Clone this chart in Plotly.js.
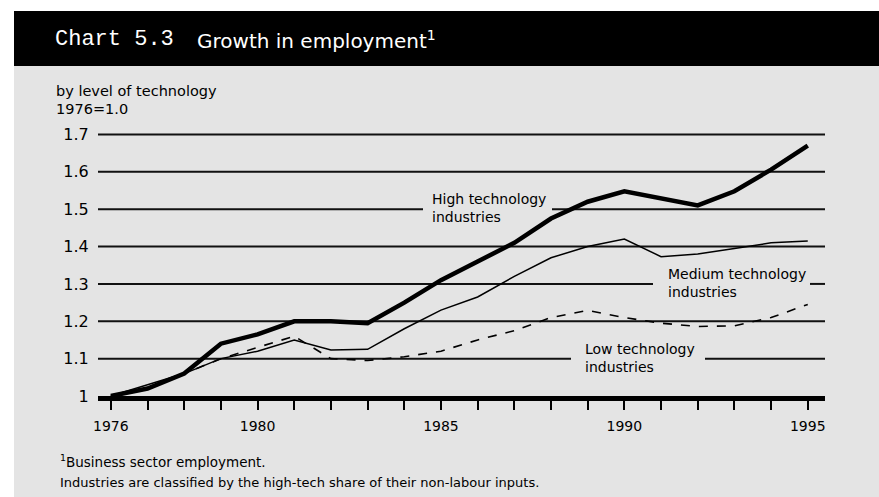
<!DOCTYPE html>
<html>
<head>
<meta charset="utf-8">
<script src="https://cdn.plot.ly/plotly-3.0.1.min.js"></script>
<style>
html,body{margin:0;padding:0;background:#fff;}
#chart{width:879px;height:497px;}
</style>
</head>
<body>
<div id="chart"></div>
<script>
// ---- data ----
const years = [1976,1977,1978,1979,1980,1981,1982,1983,1984,1985,1986,1987,1988,1989,1990,1991,1992,1993,1994,1995];
const highTech   = [1.00,1.02,1.06,1.14,1.165,1.20,1.20,1.195,1.25,1.31,1.36,1.41,1.475,1.52,1.548,1.53,1.51,1.548,1.606,1.67];
const mediumTech = [1.00,1.03,1.06,1.10,1.12,1.15,1.123,1.125,1.18,1.23,1.265,1.32,1.37,1.40,1.42,1.373,1.38,1.395,1.41,1.415];
const lowTech    = [1.00,1.02,1.06,1.10,1.13,1.16,1.10,1.095,1.105,1.12,1.15,1.175,1.21,1.229,1.21,1.195,1.186,1.188,1.21,1.245];
const xLabelYears = [1976,1980,1985,1990,1995];
const xTickLabels = ["1976","1980","1985","1990","1995"];
const yTickVals = [1,1.1,1.2,1.3,1.4,1.5,1.6,1.7];
const yTickLabels = ["1","1.1","1.2","1.3","1.4","1.5","1.6","1.7"];
const seriesLabels = ["High technology<br>industries","Medium technology<br>industries","Low technology<br>industries"];
const titleLeft = "Chart 5.3";
const titleRight = "Growth in employment<sup>1</sup>";
const subtitle1 = "by level of technology";
const subtitle2 = "1976=1.0";
const footnote1 = "<sup>1</sup>Business sector employment.";
const footnote2 = "Industries are classified by the high-tech share of their non-labour inputs.";

// ---- geometry helpers (pixel -> paper) ----
const W = 879, H = 497;
const M = {l:98, r:54, t:127, b:101};
const PW = W - M.l - M.r, PH = H - M.t - M.b;
const px = x => (x - M.l) / PW;
const py = y => (H - M.b - y) / PH;

const traces = [
  {x: years, y: lowTech, type:'scatter', mode:'lines', line:{color:'#000', width:1.6, dash:'dash'}, hoverinfo:'skip'},
  {x: years, y: mediumTech, type:'scatter', mode:'lines', line:{color:'#000', width:1.5}, hoverinfo:'skip'},
  {x: years, y: highTech, type:'scatter', mode:'lines', line:{color:'#000', width:4.5}, hoverinfo:'skip'}
];

const shapes = [
  // grey panel
  {type:'rect', xref:'paper', yref:'paper', x0:px(14), x1:px(879), y0:py(497), y1:py(66), fillcolor:'#e4e4e4', line:{width:0}, layer:'below'},
  // black title bar
  {type:'rect', xref:'paper', yref:'paper', x0:px(14), x1:px(879), y0:py(66), y1:py(11), fillcolor:'#000', line:{width:0}, layer:'below'}
];
// gridlines (with gaps for the in-chart labels)
const gridSegs = {
  1.1: [[98,571],[705,825]],
  1.2: [[98,825]],
  1.3: [[98,653],[810,825]],
  1.4: [[98,825]],
  1.5: [[98,423],[552,825]],
  1.6: [[98,825]],
  1.7: [[98,825]]
};
Object.keys(gridSegs).forEach(v => {
  gridSegs[v].forEach(s => {
    shapes.push({type:'line', xref:'paper', yref:'y', x0:px(s[0]), x1:px(s[1]), y0:+v, y1:+v, line:{color:'#111', width:2}, layer:'below'});
  });
});

const font = 'DejaVu Sans, Verdana, sans-serif';
const ann = (x, y, text, size, extra) => Object.assign({xref:'paper', yref:'paper', x:px(x), y:py(y), xanchor:'left', yanchor:'middle', align:'left', text:text, showarrow:false, font:{family:font, size:size, color:'#000'}}, extra || {});
const annotations = [
  ann(53, 40, titleLeft, 22, {font:{family:'Liberation Mono, monospace', size:22, color:'#fff'}}),
  ann(195, 40, titleRight, 20, {font:{family:font, size:20, color:'#fff'}}),
  ann(54, 91, subtitle1, 14.5),
  ann(54, 109, subtitle2, 14.5),
  ann(430, 208, seriesLabels[0], 14),
  ann(666, 282.5, seriesLabels[1], 14),
  ann(583, 357.5, seriesLabels[2], 14),
  ann(58, 461, footnote1, 13.5),
  ann(58, 482, footnote2, 13)
];

const layout = {
  width: W, height: H,
  margin: M,
  paper_bgcolor:'#fff',
  plot_bgcolor:'rgba(0,0,0,0)',
  showlegend:false,
  xaxis:{
    range:[1975.65,1995.47], tickmode:'array', tickvals:xLabelYears, ticktext:xTickLabels,
    ticks:'outside', ticklen:9, tickwidth:2, tickcolor:'#000',
    ticklabelstandoff:4,
    minor:{tickmode:'linear', tick0:1976, dtick:1, ticks:'outside', ticklen:9, tickwidth:2, tickcolor:'#000', showgrid:false},
    showline:true, linewidth:5, linecolor:'#000',
    showgrid:false, zeroline:false, fixedrange:true,
    tickfont:{family:font, size:14, color:'#000'}
  },
  yaxis:{
    range:[1,1.72], tickvals:yTickVals, ticktext:yTickLabels,
    ticks:'outside', ticklen:5, tickcolor:'rgba(0,0,0,0)',
    showline:false, showgrid:false, zeroline:false, fixedrange:true,
    tickfont:{family:font, size:16, color:'#000'}
  },
  shapes: shapes,
  annotations: annotations
};

Plotly.newPlot('chart', traces, layout, {displayModeBar:false, staticPlot:true});
</script>
</body>
</html>
